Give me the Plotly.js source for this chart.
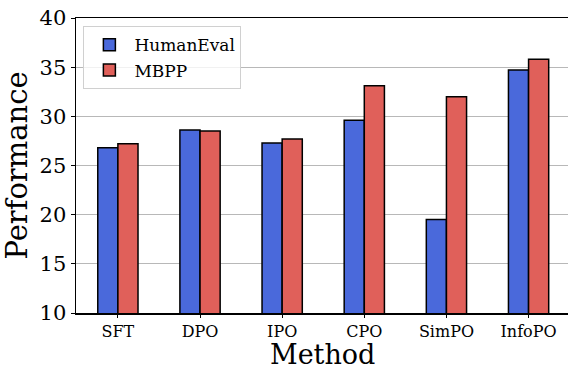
<!DOCTYPE html>
<html><head><meta charset="utf-8">
<script src="https://cdn.plot.ly/plotly-3.0.1.min.js"></script>
<style>html,body{margin:0;padding:0;background:#fff}#c{width:568px;height:365px}</style>
</head><body><div id="c"></div>
<script>
const methods = ["SFT", "DPO", "IPO", "CPO", "SimPO", "InfoPO"];
const humanEval = [26.8, 28.6, 27.3, 29.6, 19.5, 34.7];
const mbpp = [27.2, 28.5, 27.7, 33.1, 32.0, 35.8];
const yTicks = [10, 15, 20, 25, 30, 35, 40];
const xTitle = "Method";

const font = "DejaVu Serif, serif";
const traces = [
  {type: "bar", name: "HumanEval", x: methods, y: humanEval,
   marker: {color: "#4A69DB", line: {color: "#000", width: 1.5}}},
  {type: "bar", name: "MBPP", x: methods, y: mbpp,
   marker: {color: "#E0605A", line: {color: "#000", width: 1.5}}}
];
const layout = {
  width: 568, height: 365,
  margin: {l: 76, r: 0, t: 18, b: 52},
  paper_bgcolor: "#fff", plot_bgcolor: "#fff",
  barmode: "group", bargap: 0.51, bargroupgap: 0,
  font: {family: font, color: "#000"},
  xaxis: {
    type: "category", range: [-0.51, 5.48],
    showline: true, linecolor: "#000", linewidth: 1.5, mirror: true,
    ticks: "outside", ticklen: 3, tickcolor: "#000",
    tickfont: {family: font, size: 16},
    showgrid: false, zeroline: false
  },
  yaxis: {
    range: [10, 40], tickvals: yTicks,
    showline: true, linecolor: "#000", linewidth: 1.5,
    ticks: "outside", ticklen: 4, tickcolor: "#000",
    tickfont: {family: font, size: 21},
    title: {text: "Performance", font: {family: font, size: 29}, standoff: 8},
    showgrid: true, gridcolor: "#b8b8b8", gridwidth: 1, zeroline: false
  },
  annotations: [{
    text: xTitle, xref: "paper", yref: "paper", x: 0.5, y: -0.08,
    xanchor: "center", yanchor: "top", showarrow: false,
    font: {family: font, size: 27, color: "#000"}
  }],
  legend: {
    x: 0.015, y: 0.972, xanchor: "left", yanchor: "top",
    bgcolor: "rgba(255,255,255,0.8)", bordercolor: "#d0d0d0", borderwidth: 1,
    font: {family: font, size: 17}, tracegroupgap: 0, itemwidth: 40
  },
  showlegend: true
};
Plotly.newPlot("c", traces, layout, {displayModeBar: false, staticPlot: true});
</script></body></html>
